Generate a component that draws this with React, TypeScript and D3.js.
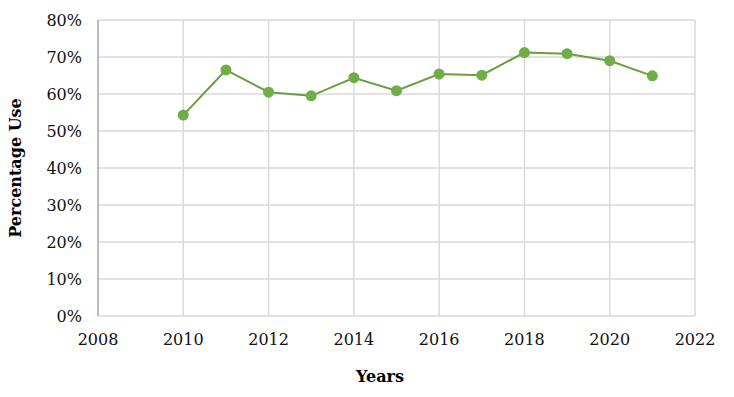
import * as d3 from "d3";

const years = [2010, 2011, 2012, 2013, 2014, 2015, 2016, 2017, 2018, 2019, 2020, 2021];
const usage = [54.3, 66.5, 60.5, 59.5, 64.4, 60.9, 65.4, 65.1, 71.2, 70.9, 69.0, 64.9];
const xTickValues = [2008, 2010, 2012, 2014, 2016, 2018, 2020, 2022];
const yTickValues = [0, 10, 20, 30, 40, 50, 60, 70, 80];

const width = 734;
const height = 397;
const margin = { top: 20, right: 39, bottom: 81, left: 98 };
const font = "'DejaVu Serif', Georgia, serif";
const green = "#70ad47";

const App = () => {
  const x = d3
    .scaleLinear()
    .domain([2008, 2022])
    .range([margin.left, width - margin.right]);
  const y = d3
    .scaleLinear()
    .domain([0, 80])
    .range([height - margin.bottom, margin.top]);

  const points = years.map((yr, i) => ({ yr, v: usage[i] }));
  const line = d3
    .line<{ yr: number; v: number }>()
    .x((d) => x(d.yr))
    .y((d) => y(d.v));

  return (
    <svg
      width={width}
      height={height}
      style={{ position: "absolute", left: 0, top: 0, background: "#fff" }}
    >
      {/* grid */}
      {yTickValues.map((t) => (
        <line
          key={"gy" + t}
          x1={margin.left}
          x2={width - margin.right}
          y1={y(t)}
          y2={y(t)}
          stroke="#d9d9d9"
          strokeWidth={1.5}
        />
      ))}
      {xTickValues.slice(1).map((t) => (
        <line
          key={"gx" + t}
          x1={x(t)}
          x2={x(t)}
          y1={margin.top}
          y2={height - margin.bottom}
          stroke="#d9d9d9"
          strokeWidth={1.5}
        />
      ))}
      <line
        x1={margin.left}
        x2={margin.left}
        y1={margin.top}
        y2={height - margin.bottom}
        stroke="#a5a5b5"
        strokeWidth={1.5}
      />

      {/* tick labels */}
      {yTickValues.map((t) => (
        <text
          key={"ly" + t}
          x={margin.left - 16}
          y={y(t)}
          dy="0.35em"
          textAnchor="end"
          fontFamily={font}
          fontSize={16}
          fill="#111"
        >
          {t}%
        </text>
      ))}
      {xTickValues.map((t) => (
        <text
          key={"lx" + t}
          x={x(t)}
          y={height - margin.bottom + 29}
          textAnchor="middle"
          fontFamily={font}
          fontSize={16}
          fill="#111"
        >
          {t}
        </text>
      ))}

      {/* axis titles */}
      <text
        x={380}
        y={382}
        textAnchor="middle"
        fontFamily={font}
        fontSize={16}
        fontWeight="bold"
        fill="#000"
      >
        Years
      </text>
      <text
        transform={`translate(21,${(margin.top + height - margin.bottom) / 2}) rotate(-90)`}
        textAnchor="middle"
        fontFamily={font}
        fontSize={16}
        fontWeight="bold"
        fill="#000"
      >
        Percentage Use
      </text>

      {/* series */}
      <path d={line(points) ?? ""} fill="none" stroke="#6a9e45" strokeWidth={2} />
      {points.map((p) => (
        <circle key={p.yr} cx={x(p.yr)} cy={y(p.v)} r={5.5} fill={green} />
      ))}
    </svg>
  );
};

export default App;
